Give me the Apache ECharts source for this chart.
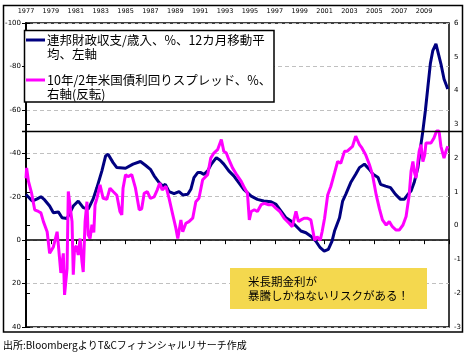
<!DOCTYPE html>
<html><head><meta charset="utf-8">
<script src="https://cdn.jsdelivr.net/npm/echarts@6/dist/echarts.min.js"></script>
<style>html,body{margin:0;padding:0;background:#fff}#c{width:469px;height:357px}</style>
</head><body><div id="c"></div>
<script>
// ---- data ----
const baseYear = 1977;
const yearLabels = [1977,1979,1981,1983,1985,1987,1989,1991,1993,1995,1997,1999,2001,2003,2005,2007,2009];
const leftTicks = [-100,-80,-60,-40,-20,0,20,40];
const rightTicks = [6,5,4,3,2,1,0,-1,-2,-3];
const refLineValue = -50;

const budgetYears = [1977.0,1977.5,1977.9,1978.2,1978.5,1978.9,1979.2,1979.6,1979.9,1980.3,1980.8,1981.2,1981.6,1982.0,1982.4,1982.7,1983.1,1983.4,1983.6,1984.0,1984.3,1985.0,1985.6,1986.2,1986.6,1987.0,1987.3,1987.7,1988.0,1988.2,1988.5,1988.9,1989.3,1989.6,1990.0,1990.25,1990.5,1990.8,1991.05,1991.3,1991.6,1991.9,1992.3,1992.6,1992.9,1993.3,1993.7,1994.1,1994.5,1995.1,1995.6,1996.1,1996.7,1997.1,1997.5,1997.9,1998.3,1998.7,1999.1,1999.5,1999.9,2000.3,2000.65,2000.97,2001.3,2001.6,2001.8,2002.2,2002.45,2002.7,2003.1,2003.5,2003.8,2004.2,2004.3,2004.6,2004.9,2005.3,2005.5,2005.9,2006.3,2006.7,2007.1,2007.4,2007.7,2007.95,2008.2,2008.5,2008.75,2008.9,2009.1,2009.3,2009.5,2009.7,2009.95,2010.1,2010.35,2010.6,2010.9];
const budgetValues = [-21,-18,-19,-20,-18.5,-15.7,-12.6,-13,-10.3,-10,-15.7,-18,-15,-14.3,-19,-24.2,-31.9,-38.8,-39.6,-35.7,-33.4,-33.1,-35,-36.2,-34.5,-32.6,-29.6,-26.5,-24.9,-25.7,-22.3,-21.4,-22.3,-20.8,-21.1,-23.4,-28.8,-31.1,-31.1,-30.3,-31.9,-35,-38,-36.8,-35,-31.9,-29.6,-26.5,-23.4,-20.3,-18.8,-18,-17.7,-16.5,-13.4,-10.3,-8.8,-6.5,-4.2,-3.4,-1.8,0.5,3.5,5.1,4.3,0.5,-4.2,-10.3,-18,-21.1,-26.5,-30.3,-33.4,-35,-35.7,-32.6,-30.3,-28.8,-25.7,-24.9,-24.2,-21.1,-18.8,-18.8,-21.1,-22.6,-26.5,-33.4,-44.2,-50.3,-59.6,-70.4,-81.2,-87.3,-90.4,-89.6,-81.2,-74.2,-69.6];

const spreadYears = [1977.0,1977.05,1977.2,1977.45,1977.7,1978.0,1978.2,1978.4,1978.7,1978.9,1979.2,1979.5,1979.6,1979.8,1980.0,1980.1,1980.3,1980.4,1980.5,1980.7,1980.8,1980.9,1981.05,1981.2,1981.35,1981.5,1981.6,1981.75,1981.9,1982.0,1982.15,1982.3,1982.45,1982.55,1982.7,1982.95,1983.2,1983.5,1983.75,1984.0,1984.3,1984.55,1984.7,1984.8,1985.0,1985.2,1985.5,1985.8,1986.1,1986.3,1986.5,1986.75,1987.0,1987.3,1987.55,1987.75,1987.95,1988.25,1988.5,1988.8,1989.05,1989.2,1989.45,1989.6,1989.85,1990.1,1990.4,1990.65,1990.9,1991.2,1991.6,1991.85,1992.1,1992.4,1992.7,1992.9,1993.1,1993.3,1993.6,1993.9,1994.0,1994.3,1994.5,1994.8,1994.95,1995.1,1995.35,1995.6,1995.9,1996.15,1996.5,1996.8,1997.1,1997.4,1997.75,1998.15,1998.4,1998.7,1998.9,1999.1,1999.35,1999.6,1999.9,2000.2,2000.4,2000.65,2000.8,2001.0,2001.25,2001.5,2001.8,2002.05,2002.3,2002.6,2002.8,2003.25,2003.5,2003.8,2004.0,2004.3,2004.6,2004.85,2005.15,2005.4,2005.65,2005.95,2006.2,2006.45,2006.75,2007.0,2007.3,2007.55,2007.8,2007.95,2008.1,2008.2,2008.35,2008.5,2008.6,2008.75,2008.9,2009.05,2009.15,2009.3,2009.55,2009.8,2010.0,2010.2,2010.35,2010.5,2010.6,2010.75,2010.9];
const spreadValues = [1.4,1.71,1.31,0.96,0.47,0.42,0.38,0.12,-0.18,-0.82,-0.63,-0.18,-0.57,-1.4,-0.82,-2.05,-1.27,1.01,1.06,0.12,-1.45,-0.68,-0.6,-0.87,-0.38,-1.07,-1.37,0.12,0.71,-0.27,-0.38,0.03,-0.2,0.62,0.81,1.21,0.81,0.78,1.11,1.01,0.9,0.42,0.32,1.11,1.51,1.45,1.51,1.11,0.47,0.5,0.96,1.01,0.81,0.85,1.06,1.26,1.06,1.16,0.81,0.32,-0.08,-0.38,0.17,-0.18,0.07,0.12,0.22,0.71,0.81,1.36,1.51,2.0,2.15,2.25,2.55,2.2,2.15,1.96,1.71,1.53,1.5,1.31,1.16,0.96,0.17,0.42,0.47,0.42,0.62,0.66,0.62,0.62,0.51,0.42,0.22,0.07,-0.03,0.42,0.12,0.17,0.22,0.22,0.17,-0.43,-0.33,-0.43,-0.18,0.22,0.91,1.16,1.56,1.9,1.85,2.2,2.2,2.35,2.65,2.4,2.3,2.1,1.81,1.51,0.91,0.51,0.17,0.02,0.12,-0.03,-0.13,-0.13,0.02,0.27,0.91,1.61,1.9,1.61,1.41,1.9,2.2,2.4,1.9,2.1,2.45,2.5,2.45,2.6,2.8,2.8,2.35,2.3,2.0,2.2,2.35];

const legend1 = ['連邦財政収支/歳入、%、12カ月移動平', '均、左軸'];
const legend2 = ['10年/2年米国債利回りスプレッド、%、', '右軸(反転)'];
const note = ['米長期金利が', '暴騰しかねないリスクがある！'];
const source = '出所:BloombergよりT&Cフィナンシャルリサーチ作成';

// ---- build ----
const toPairs = (xs, ys) => xs.map((x, i) => [x - baseYear, ys[i]]);
const FONT = '"Noto Sans CJK JP", "Noto Sans", sans-serif';
const chart = echarts.init(document.getElementById('c'), null, {renderer: 'canvas'});

const txt = (id, s, x, y, size) => ({
  type: 'text', id, z: 60,
  style: {text: s, x, y, font: size + 'px ' + FONT, fill: '#000',
    textAlign: 'left', textVerticalAlign: 'middle', align: 'left', verticalAlign: 'middle'}
});

chart.setOption({
  animation: false,
  backgroundColor: '#fff',
  grid: {left: 26, right: 20, top: 23, bottom: 30, show: true, borderColor: '#000', borderWidth: 1.5},
  xAxis: [
    {type: 'value', position: 'top', min: 0, max: 34, interval: 2,
     axisLine: {show: false}, axisTick: {show: false}, splitLine: {show: false},
     axisLabel: {fontSize: 6.5, color: '#000', margin: 8, fontFamily: 'DejaVu Sans',
       formatter: v => yearLabels.indexOf(baseYear + v) >= 0 ? String(baseYear + v) : ''}},
    {type: 'value', position: 'bottom', min: 0, max: 34, interval: 2,
     axisLine: {show: true, onZero: true, onZeroAxisIndex: 0, lineStyle: {color: '#000', width: 1.5}},
     axisTick: {show: true, length: 4, lineStyle: {color: '#000', width: 1}},
     axisLabel: {show: false}, splitLine: {show: false}}
  ],
  yAxis: [
    {type: 'value', inverse: true, min: -100, max: 40, interval: 20, position: 'left',
     axisLine: {show: true, lineStyle: {color: '#000', width: 1.5}},
     axisTick: {show: true, length: 4, lineStyle: {color: '#000'}},
     axisLabel: {fontSize: 7, color: '#000', margin: 5, fontFamily: 'DejaVu Sans',
       formatter: v => leftTicks.indexOf(v) >= 0 ? String(v) : ''},
     splitLine: {show: true, lineStyle: {color: '#c0c0c0', type: [4, 3], width: 1}}},
    {type: 'value', min: -3, max: 6, interval: 1, position: 'right',
     axisLine: {show: true, lineStyle: {color: '#000', width: 1.5}},
     axisTick: {show: true, length: 4, lineStyle: {color: '#000'}},
     axisLabel: {fontSize: 7, color: '#000', margin: 5, fontFamily: 'DejaVu Sans',
       formatter: v => rightTicks.indexOf(v) >= 0 ? String(v) : ''},
     splitLine: {show: false}}
  ],
  series: [
    {type: 'line', name: 'budget', xAxisIndex: 0, yAxisIndex: 0, data: toPairs(budgetYears, budgetValues),
     showSymbol: false, lineStyle: {color: '#000080', width: 3}, itemStyle: {color: '#000080'}, z: 3},
    {type: 'line', name: 'spread', xAxisIndex: 0, yAxisIndex: 1, data: toPairs(spreadYears, spreadValues),
     showSymbol: false, lineStyle: {color: '#ff00ff', width: 3}, itemStyle: {color: '#ff00ff'}, z: 4}
  ]
});

const refY = chart.convertToPixel({yAxisIndex: 0}, refLineValue);
chart.setOption({
  graphic: [
    {type: 'rect', id: 'frame', z: 1, shape: {x: 3.5, y: 5.5, width: 459, height: 326.5},
     style: {fill: 'none', stroke: '#000', lineWidth: 1.5}},
    {type: 'line', id: 'ref', z: 50, shape: {x1: 22, y1: refY, x2: 463, y2: refY},
     style: {stroke: '#000', lineWidth: 1.5}},
    {type: 'rect', id: 'legbox', z: 55, shape: {x: 24.5, y: 30.5, width: 249.5, height: 71.5},
     style: {fill: '#fff', stroke: '#000', lineWidth: 1.5}},
    {type: 'line', id: 'leg1', z: 58, shape: {x1: 26, y1: 40, x2: 45, y2: 40}, style: {stroke: '#000080', lineWidth: 3}},
    {type: 'line', id: 'leg2', z: 58, shape: {x1: 26, y1: 80, x2: 45, y2: 80}, style: {stroke: '#ff00ff', lineWidth: 3}},
    txt('t1', legend1[0], 47, 40, 12.5),
    txt('t2', legend1[1], 47, 54, 12.5),
    txt('t3', legend2[0], 47, 80, 12.5),
    txt('t4', legend2[1], 47, 94, 12.5),
    {type: 'rect', id: 'notebox', z: 55, shape: {x: 230, y: 268, width: 197, height: 41},
     style: {fill: '#f4d84e', stroke: 'none'}},
    txt('n1', note[0], 248, 282, 11.5),
    txt('n2', note[1], 248, 296, 11.5),
    txt('src', source, 3, 345, 10)
  ]
});
</script></body></html>
